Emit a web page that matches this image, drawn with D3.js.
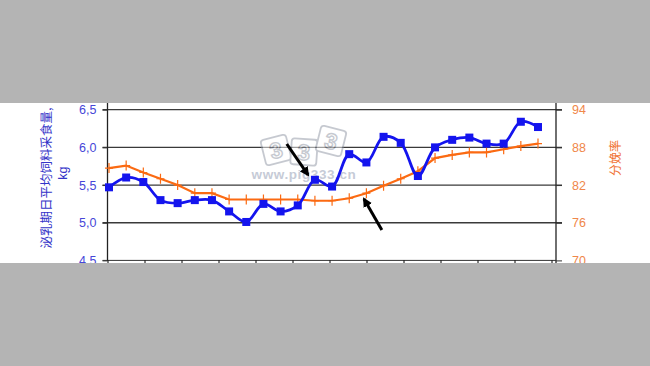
<!DOCTYPE html>
<html>
<head>
<meta charset="utf-8">
<script src="https://cdn.jsdelivr.net/npm/d3@7"></script>
<style>
  body { margin: 0; background: #b4b4b4; }
  svg { display: block; }
  .tick-label { font-family: "Liberation Sans", Arial, sans-serif; font-size: 12.5px; }
  .cjk { font-family: "Noto Sans CJK SC", sans-serif; }
</style>
</head>
<body>
<svg id="chart" width="650" height="366"></svg>
<script>
// lactation days / sample index along the x axis
const days = d3.range(1, 27);
// average daily feed intake during lactation, kg (left axis)
const feedIntake = [5.47, 5.60, 5.54, 5.30, 5.26, 5.30, 5.30, 5.15, 5.01, 5.25, 5.15, 5.23, 5.57,
  5.48, 5.91, 5.80, 6.14, 6.06, 5.62, 6.00, 6.10, 6.13, 6.05, 6.05, 6.34, 6.27];
// farrowing rate, % (right axis)
const farrowingRate = [84.7, 85.1, 84.0, 83.0, 82.0, 80.7, 80.7, 79.7, 79.7, 79.7, 79.7, 79.7, 79.5,
  79.5, 79.9, 80.7, 81.9, 83.0, 84.2, 86.3, 86.8, 87.2, 87.2, 87.7, 88.2, 88.6];
const leftTicks = [4.5, 5.0, 5.5, 6.0, 6.5];
const rightTicks = [70, 76, 82, 88, 94];
const xTickCount = 12;
// annotation arrows: [fromDay, fromValue, toDay, toValue] in left-axis units
const arrows = [[11.36, 6.045, 12.6, 5.634], [16.9, 4.905, 15.86, 5.316]];

const svg = d3.select('#chart');
const blue = '#1414ee';
const orange = '#fb6a12';

const plot = { left: 107.5, right: 556, top: 109.7, bottom: 260.4 };

const x = d3.scaleLinear().domain([1, 26]).range([109, 538]);
const xAxisScale = d3.scaleLinear().domain([0, xTickCount]).range([plot.left, 551.5]);
const yL = d3.scaleLinear().domain([4.5, 6.5]).range([plot.bottom, plot.top]);
const yR = d3.scaleLinear().domain([70, 94]).range([plot.bottom, plot.top]);

// white band
svg.append('rect').attr('x', 0).attr('y', 0).attr('width', 650).attr('height', 366).style('fill', '#fff');

// gridlines
svg.append('g').selectAll('line').data(leftTicks.slice(1)).join('line')
  .attr('x1', plot.left - 5).attr('x2', plot.right + 6)
  .attr('y1', d => yL(d)).attr('y2', d => yL(d))
  .style('stroke', '#3a3a3a').style('stroke-width', 1.3);

// left axis
const leftAxis = svg.append('g').attr('transform', `translate(${plot.left},0)`)
  .call(d3.axisLeft(yL).tickValues(leftTicks).tickSize(5).tickPadding(6)
    .tickFormat(d => d3.format('.1f')(d).replace('.', ',')));
leftAxis.select('.domain').attr('d', `M0,${plot.top - 7}V${plot.bottom}`);
leftAxis.selectAll('line').style('stroke', '#333');
leftAxis.selectAll('text').attr('class', 'tick-label').style('fill', '#4646d8');
leftAxis.select('.domain').style('stroke', '#222').style('stroke-width', 1.3);

// right axis
const rightAxis = svg.append('g').attr('transform', `translate(${plot.right},0)`)
  .call(d3.axisRight(yR).tickValues(rightTicks).tickSize(6).tickPadding(10));
rightAxis.select('.domain').attr('d', `M0,${plot.top - 7}V${plot.bottom + 5}`);
rightAxis.selectAll('line').style('stroke', '#333');
rightAxis.selectAll('text').attr('class', 'tick-label').style('fill', '#f0874a');
rightAxis.select('.domain').style('stroke', '#222').style('stroke-width', 1.3);

// x axis (labels cut off in the picture)
const xAxis = svg.append('g').attr('transform', `translate(0,${plot.bottom})`)
  .call(d3.axisBottom(xAxisScale).ticks(xTickCount).tickSize(5).tickFormat(''));
xAxis.select('.domain').attr('d', `M${plot.left - 5},0H${plot.right}`).style('stroke', '#333');

// watermark
const wm = svg.append('g').style('opacity', 0.5);
[[276, 150, -14], [304, 152, 4], [331, 141, 14]].forEach(([cx, cy, a]) => {
  const t = wm.append('g').attr('transform', `translate(${cx},${cy}) rotate(${a})`);
  t.append('rect').attr('x', -13).attr('y', -13).attr('width', 26).attr('height', 26).attr('rx', 3)
    .style('fill', '#fff').style('stroke', '#8e95a3').style('stroke-width', 1.8);
  t.append('text').attr('text-anchor', 'middle').attr('dy', '0.36em')
    .style('font', 'bold 22px "Liberation Sans", Arial').style('fill', '#fff')
    .style('stroke', '#8e95a3').style('stroke-width', 1.4).text('3');
});
wm.append('text').attr('x', 304).attr('y', 179).attr('text-anchor', 'middle')
  .style('font', 'bold 13.5px "Liberation Sans", Arial').style('fill', '#8e98b0')
  .style('letter-spacing', '0.6px').text('www.pig333.cn');

// farrowing rate line
svg.append('path').datum(farrowingRate)
  .attr('d', d3.line().x((d, i) => x(days[i])).y(d => yR(d)))
  .style('fill', 'none').style('stroke', orange).style('stroke-width', 2.2);
svg.append('g').selectAll('path').data(farrowingRate).join('path')
  .attr('d', (d, i) => `M${x(days[i]) - 4},${yR(d)}h8M${x(days[i])},${yR(d) - 5}v10`)
  .style('stroke', orange).style('stroke-width', 1.2);

// feed intake line
svg.append('path').datum(feedIntake)
  .attr('d', d3.line().x((d, i) => x(days[i])).y(d => yL(d)).curve(d3.curveCatmullRom.alpha(0.5)))
  .style('fill', 'none').style('stroke', blue).style('stroke-width', 2.8);
svg.append('g').selectAll('rect').data(feedIntake).join('rect')
  .attr('x', (d, i) => x(days[i]) - 4).attr('y', d => yL(d) - 4)
  .attr('width', 8).attr('height', 8).style('fill', blue);

// arrows
svg.append('defs').append('marker').attr('id', 'head')
  .attr('viewBox', '0 0 10 10').attr('refX', 8).attr('refY', 5)
  .attr('markerWidth', 3.2).attr('markerHeight', 3.2).attr('orient', 'auto')
  .append('path').attr('d', 'M0,0L10,5L0,10Z').style('fill', '#000');
svg.append('g').selectAll('line').data(arrows).join('line')
  .attr('x1', d => x(d[0])).attr('y1', d => yL(d[1]))
  .attr('x2', d => x(d[2])).attr('y2', d => yL(d[3]))
  .style('stroke', '#000').style('stroke-width', 3).attr('marker-end', 'url(#head)');

// axis titles
svg.append('text').attr('class', 'cjk')
  .attr('transform', `translate(51,${(plot.top + plot.bottom) / 2 - 7}) rotate(-90)`)
  .attr('text-anchor', 'middle').style('font-size', '12.5px').style('fill', '#3434c8')
  .text('泌乳期日平均饲料采食量,');
svg.append('text').attr('class', 'tick-label')
  .attr('transform', `translate(67,${(plot.top + plot.bottom) / 2 - 12}) rotate(-90)`)
  .attr('text-anchor', 'middle').style('fill', '#3434c8').text('kg');
svg.append('text').attr('class', 'cjk')
  .attr('transform', `translate(620,158) rotate(-90)`)
  .attr('text-anchor', 'middle').style('font-size', '12px').style('fill', '#f07030')
  .text('分娩率');

// grey bands hiding the cut-off parts
svg.append('rect').attr('x', 0).attr('y', 0).attr('width', 650).attr('height', 103).style('fill', '#b4b4b4');
svg.append('rect').attr('x', 0).attr('y', 263).attr('width', 650).attr('height', 103).style('fill', '#b4b4b4');
</script>
</body>
</html>
